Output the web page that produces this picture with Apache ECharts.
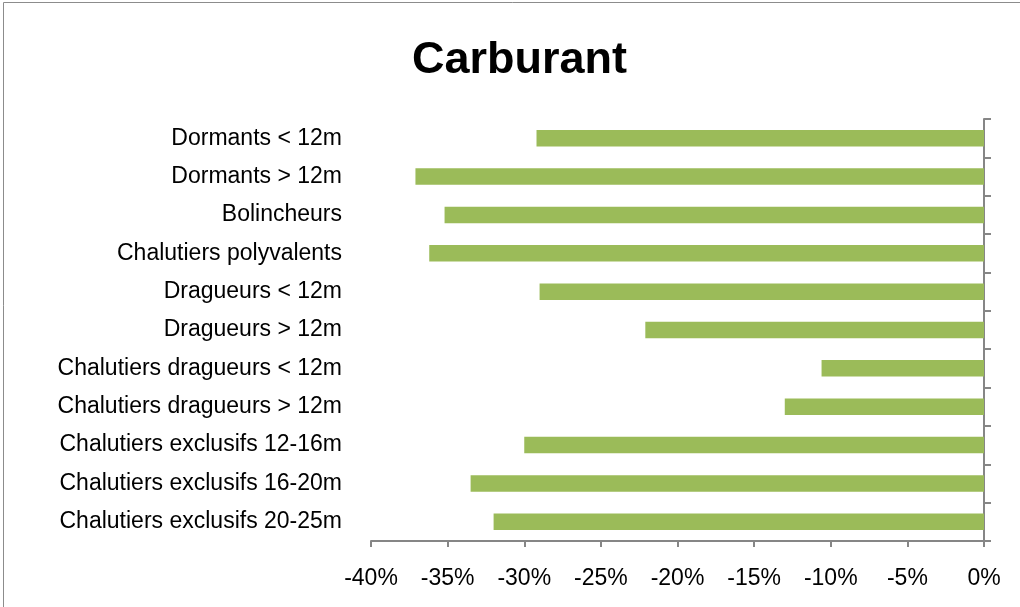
<!DOCTYPE html>
<html lang="fr">
<head>
    <meta charset="UTF-8">
    <title>Carburant</title>
    <style>
      * { padding: 0; margin: 0; }
      body { background: #fff; }
    </style>
</head>
<body>
    <div id="main" style="width: 1020px;height:607px;"></div>
    <script src="https://cdn.jsdelivr.net/npm/echarts@6/dist/echarts.min.js"></script>
    <script>
      // catégories, de haut en bas
      var categories = [
        'Dormants < 12m',
        'Dormants > 12m',
        'Bolincheurs',
        'Chalutiers polyvalents',
        'Dragueurs < 12m',
        'Dragueurs > 12m',
        'Chalutiers dragueurs < 12m',
        'Chalutiers dragueurs > 12m',
        'Chalutiers exclusifs 12-16m',
        'Chalutiers exclusifs 16-20m',
        'Chalutiers exclusifs 20-25m'
      ];
      // variation en %
      var values = [-29.2, -37.1, -35.2, -36.2, -29.0, -22.1, -10.6, -13.0, -30.0, -33.5, -32.0];
      var xTicks = { min: -40, max: 0, interval: 5 };

      var axisGray = '#868686';
      var font = 'Liberation Sans';

      var option = {
        animation: false,
        title: {
          text: 'Carburant',
          left: 407,
          top: 33,
          textStyle: { fontFamily: font, fontSize: 45, fontWeight: 'bold', color: '#000' }
        },
        graphic: [{
          type: 'rect',
          shape: { x: 3.5, y: 2.5, width: 1100, height: 700 },
          style: { fill: 'none', stroke: '#8c8c8c', lineWidth: 1 }
        }],
        grid: { left: 371, right: 36, top: 119, bottom: 66 },
        xAxis: {
          type: 'value',
          min: xTicks.min,
          max: xTicks.max,
          interval: xTicks.interval,
          splitLine: { show: false },
          axisLine: { show: true, lineStyle: { color: axisGray, width: 2 } },
          axisTick: { show: true, length: 6, lineStyle: { color: axisGray, width: 2 } },
          axisLabel: {
            margin: 26,
            color: '#000',
            fontFamily: font,
            fontSize: 23,
            formatter: function (v) { return v + '%'; }
          }
        },
        yAxis: [{
          type: 'category',
          data: categories,
          inverse: true,
          position: 'right',
          axisLine: { show: true, lineStyle: { color: axisGray, width: 2 } },
          axisTick: { show: true, length: 7, lineStyle: { color: axisGray, width: 2 } },
          axisLabel: { show: false }
        }, {
          type: 'category',
          data: categories,
          inverse: true,
          position: 'left',
          axisLine: { show: false },
          axisTick: { show: false },
          axisLabel: {
            margin: 29,
            color: '#000',
            fontFamily: font,
            fontSize: 23
          }
        }],
        series: [{
          type: 'bar',
          data: values,
          yAxisIndex: 0,
          barCategoryGap: '57%',
          itemStyle: { color: '#9BBB59' }
        }]
      };

      var myChart = echarts.init(document.getElementById('main'));
      myChart.setOption(option);
    </script>
</body>
</html>
